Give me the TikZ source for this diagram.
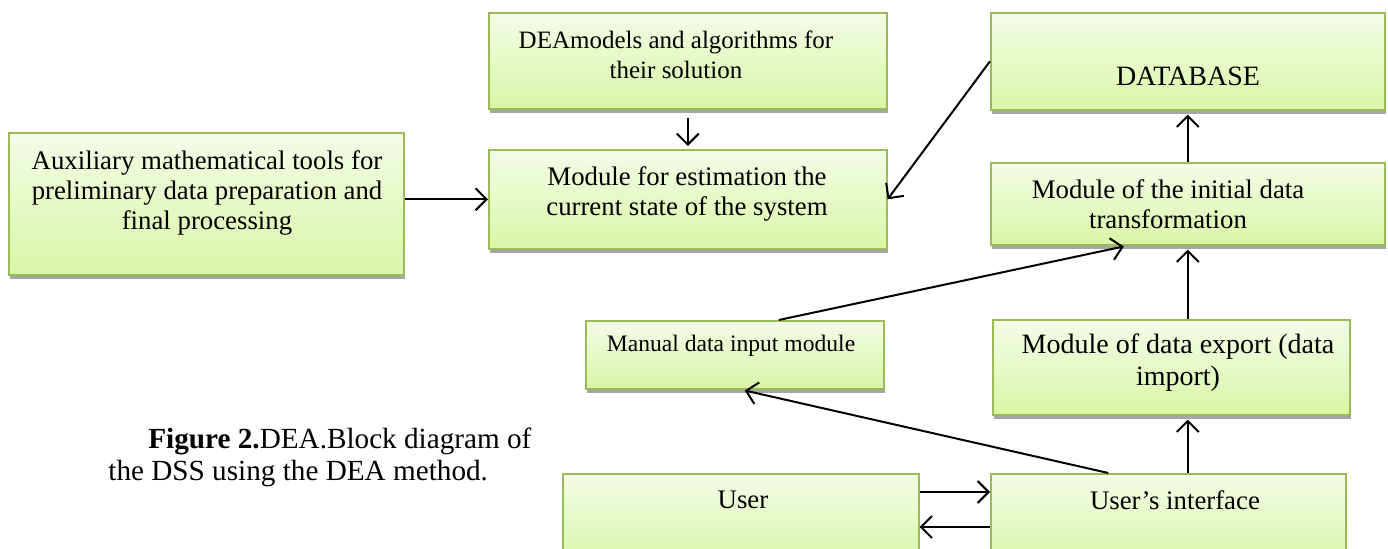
\documentclass[tikz,border=0pt]{standalone}
\usepackage{fontspec}
\setmainfont{Liberation Serif}
\usepackage{xcolor}
\usepackage{tikz}
\usetikzlibrary{arrows.meta,calc,shadows}

\definecolor{blkborder}{HTML}{9BBB59}
\definecolor{blktop}{HTML}{F4FCE8}
\definecolor{blkbot}{HTML}{D9F6A6}

\begin{document}
\begin{tikzpicture}[x=0.5pt, y=-0.5pt,
    blk/.style={draw=blkborder, line width=0.8pt, top color=blktop, bottom color=blkbot,
      anchor=north west, inner sep=0pt,
      drop shadow={shadow xshift=0.5pt, shadow yshift=-2pt, fill=black!35, opacity=1}},
    txt/.style={font=\fontsize{13.4}{14.8}\selectfont, align=center, inner sep=0pt},
    arr/.style={-{Straight Barb[length=5.5pt,width=11pt]}, line width=1pt}]
  \useasboundingbox (0,0) rectangle (1388,549);
  % blocks
  \node[blk, minimum width=197.5pt, minimum height=71pt] (aux) at (8,132) {};
  \node[blk, minimum width=199pt, minimum height=48pt] (dea) at (488,12) {};
  \node[blk, minimum width=199pt, minimum height=49.5pt] (est) at (488,149) {};
  \node[blk, minimum width=197pt, minimum height=48.5pt] (db) at (990,12) {};
  \node[blk, minimum width=197pt, minimum height=41pt] (trans) at (990,162) {};
  \node[blk, minimum width=149pt, minimum height=34pt] (man) at (585,320) {};
  \node[blk, minimum width=178.5pt, minimum height=47.5pt] (exp) at (992,319) {};
  \node[blk, minimum width=178pt, minimum height=45pt] (user) at (562,473) {};
  \node[blk, minimum width=177.5pt, minimum height=45pt] (ui) at (990,473) {};
  % texts
  \node[txt] (auxt) at (207,193) {Auxiliary mathematical tools for\\preliminary data preparation and\\final processing};
  \node[txt, font=\fontsize{12.5}{14.8}\selectfont] (deat) at (676,55) {DEAmodels and algorithms for\\their solution};
  \node[txt] (estt) at (687,194) {Module for estimation the\\current state of the system};
  \node[txt, font=\fontsize{14}{15}\selectfont] (dbt) at (1188,76) {DATABASE};
  \node[txt] (transt) at (1168,204) {Module of the initial data\\transformation};
  \node[txt, font=\fontsize{11.8}{13}\selectfont] (mant) at (731,346) {Manual data input module};
  \node[txt, font=\fontsize{14}{16}\selectfont] (expt) at (1178,363) {Module of data export (data\\import)};
  \node[txt] (usert) at (743,500) {User};
  \node[txt] (uit) at (1175,500) {User's interface};
  \node[txt, font=\fontsize{14.6}{16}\selectfont, align=left, anchor=north west] (cap) at (108,428)
    {\hspace*{20pt}\textbf{Figure 2.}DEA.Block diagram of\\the DSS using the DEA method.};
  % connectors
  \draw[arr] (aux.east |- est.west) -- (est.west);
  \draw[arr, shorten <=4pt, shorten >=1.5pt] (dea.south -| est.north) -- (est.north);
  \draw[arr] (db.west) -- (est.east);
  \draw[arr, shorten >=2pt] (trans.north) -- (db.south);
  \draw[arr, shorten >=2pt] (exp.north -| trans.south) -- (trans.south);
  \draw[arr, shorten >=2pt] ($(man.north)+(44,0)$) -- ($(trans.south)+(-60,0)$);
  \draw[arr, shorten >=2pt] (ui.north -| trans.south) -- (exp.south -| trans.south);
  \draw[arr, shorten >=2pt] ($(ui.north)+(-60,0)$) -- ($(man.south)+(6,0)$);
  \draw[arr] ($(user.north east)+(0,19)$) -- ($(ui.north west)+(0,19)$);
  \draw[arr] ($(ui.north west)+(0,54)$) -- ($(user.north east)+(0,54)$);
\end{tikzpicture}
\end{document}
